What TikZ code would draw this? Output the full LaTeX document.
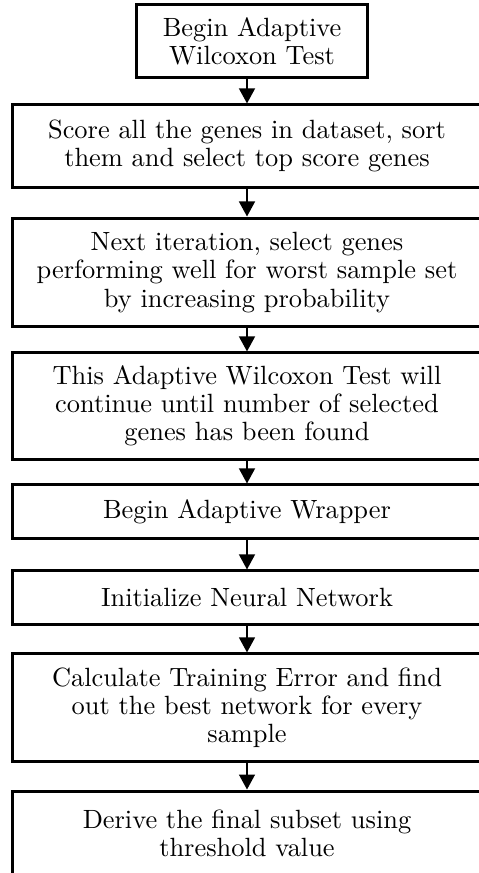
\documentclass[tikz,border=0pt]{standalone}
\usetikzlibrary{arrows.meta}
\begin{document}
\begin{tikzpicture}[x=0.379pt,y=-0.379pt,
  flowbox/.style={draw,line width=1.14pt,rectangle,align=center,inner sep=0pt,
    font=\fontsize{10}{10.7}\selectfont},
  widebox/.style={flowbox,minimum width=178.1pt},
  flowarrow/.style={line width=0.76pt,-{Triangle[width=6pt,length=5.7pt]}}]
\useasboundingbox (0,0) rectangle (479,873);
\clip (0,0) rectangle (479,873);
\node[flowbox,minimum width=87.2pt,minimum height=27.3pt] (b1) at (252,41) {Begin Adaptive\\Wilcoxon Test};
\node[widebox,minimum height=31.1pt] (b2) at (247,146) {Score all the genes in dataset, sort\\them and select top score genes};
\node[widebox,minimum height=41.3pt] (b3) at (247,272.5) {Next iteration, select genes\\performing well for worst sample set\\by increasing probability};
\node[widebox,minimum height=40.2pt] (b4) at (247,406) {This Adaptive Wilcoxon Test will\\continue until number of selected\\genes has been found};
\node[widebox,minimum height=20.1pt] (b5) at (247,511.5) {Begin Adaptive Wrapper};
\node[widebox,minimum height=20.1pt] (b6) at (247,597.5) {Initialize Neural Network};
\node[widebox,minimum height=40.6pt] (b7) at (247,707.5) {Calculate Training Error and find\\out the best network for every\\sample};
\node[widebox,minimum height=31.8pt] (b8) at (247,833) {Derive the final subset using\\threshold value};
\coordinate (a1) at (247,77);
\draw[flowarrow] (a1) -- (a1 |- b2.north);
\draw[flowarrow] (b2.south) -- (b3.north);
\draw[flowarrow] (b3.south) -- (b4.north);
\draw[flowarrow] (b4.south) -- (b5.north);
\draw[flowarrow] (b5.south) -- (b6.north);
\draw[flowarrow] (b6.south) -- (b7.north);
\draw[flowarrow] (b7.south) -- (b8.north);
\end{tikzpicture}
\end{document}
